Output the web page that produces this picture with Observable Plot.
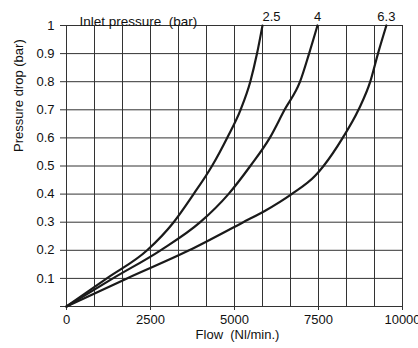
<!DOCTYPE html>
<html>
<head>
<meta charset="utf-8">
<script src="https://cdn.jsdelivr.net/npm/d3@7"></script>
<script src="https://cdn.jsdelivr.net/npm/@observablehq/plot@0.6"></script>
<style>
  html, body { margin: 0; padding: 0; background: #fff; }
</style>
</head>
<body>
<div id="chart"></div>
<script>
// Series: inlet pressure (bar) -> flow (Nl/min.) vs pressure drop (bar)
const pressures = ["2.5", "4", "6.3"];
const flow25 = [0, 1200, 2400, 3190, 3783, 4330, 4780, 5180, 5470, 5670, 5833];
const drop25 = [0, 0.1, 0.2, 0.3, 0.4, 0.5, 0.6, 0.7, 0.8, 0.9, 1.0];
const flow4 = [0, 1380, 2800, 3980, 4820, 5470, 6050, 6490, 6950, 7220, 7470];
const drop4 = [0, 0.1, 0.2, 0.3, 0.4, 0.5, 0.6, 0.7, 0.8, 0.9, 1.0];
const flow63 = [0, 1800, 3650, 5260, 5900, 6700, 7400, 7650, 8220, 8690, 9040, 9270, 9520];
const drop63 = [0, 0.1, 0.2, 0.3, 0.34, 0.4, 0.465, 0.5, 0.6, 0.7, 0.8, 0.9, 1.0];

const xTicks = [0, 2500, 5000, 7500, 10000];
const yTicks = [0, 0.1, 0.2, 0.3, 0.4, 0.5, 0.6, 0.7, 0.8, 0.9, 1];
const xGrid = d3.range(0, 13).map(i => i * 10000 / 12);
const yGrid = yTicks;

const seriesFlows = [flow25, flow4, flow63];
const seriesDrops = [drop25, drop4, drop63];
const data = [];
pressures.forEach((p, k) => {
  seriesFlows[k].forEach((f, i) => data.push({series: p, flow: f, drop: seriesDrops[k][i]}));
});
const ends = pressures.map((p, k) => ({
  series: p,
  flow: seriesFlows[k][seriesFlows[k].length - 1],
  drop: seriesDrops[k][seriesDrops[k].length - 1]
}));

const gridColor = "#333";
const chart = Plot.plot({
  width: 418,
  height: 348,
  marginLeft: 66,
  marginRight: 16,
  marginTop: 25,
  marginBottom: 42,
  style: {fontFamily: "'Liberation Sans', Arial, Helvetica, sans-serif", fontSize: "13px", color: "#111", background: "#fff"},
  x: {domain: [0, 10000]},
  y: {domain: [0, 1]},
  marks: [
    Plot.ruleX(xGrid, {stroke: gridColor, strokeWidth: 1}),
    Plot.ruleY(yGrid, {stroke: gridColor, strokeWidth: 1}),
    Plot.axisX({ticks: xTicks, tickSize: 4, tickPadding: 4, label: null, stroke: gridColor, fontSize: 13, tickFormat: d => String(d)}),
    Plot.axisY({ticks: yTicks, tickSize: 6, tickPadding: 6, label: null, stroke: gridColor, fontSize: 13, tickFormat: d => d === 0 ? "" : String(d)}),
    Plot.line(data, {x: "flow", y: "drop", z: "series", curve: "monotone-x", stroke: "#1a1a1a", strokeWidth: 2.2}),
    Plot.text(ends.filter(d => d.series === "2.5"), {x: "flow", y: "drop", text: "series", textAnchor: "start", dy: -9, fontSize: 13, fill: "#111"}),
    Plot.text(ends.filter(d => d.series !== "2.5"), {x: "flow", y: "drop", text: "series", textAnchor: "middle", dy: -9, fontSize: 13, fill: "#111"}),
    Plot.text(["Inlet pressure\u00a0 (bar)"], {frameAnchor: "top-left", textAnchor: "start", dx: 13, dy: -9, fontSize: 13.5, fill: "#111"}),
    Plot.text(["Flow\u00a0 (Nl/min.)"], {frameAnchor: "bottom", dx: 3, dy: 32, fontSize: 13, fill: "#111"}),
    Plot.text(["Pressure drop (bar)"], {frameAnchor: "left", rotate: -90, dx: -48, dy: -14, fontSize: 13, fill: "#111"})
  ]
});
document.getElementById("chart").appendChild(chart);
</script>
</body>
</html>
